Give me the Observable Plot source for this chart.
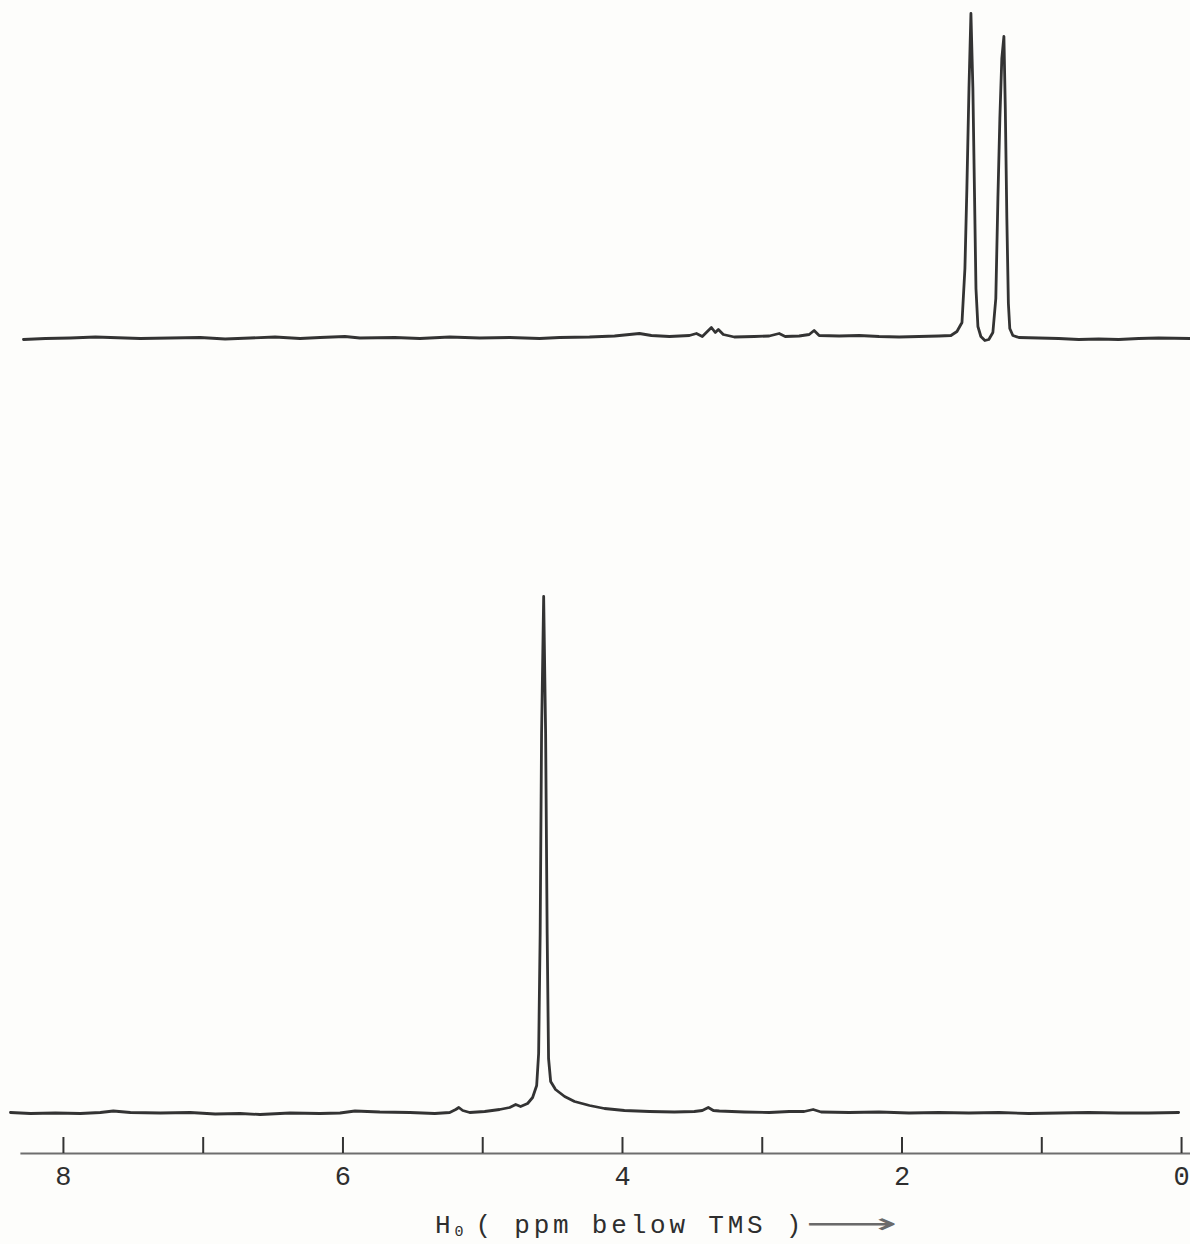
<!DOCTYPE html>
<html>
<head>
<meta charset="utf-8">
<script src="https://cdn.jsdelivr.net/npm/d3@7"></script>
<script src="https://cdn.jsdelivr.net/npm/@observablehq/plot@0.6"></script>
<style>
  html, body { margin: 0; padding: 0; background: #fdfdfb; }
  #wrap { position: relative; width: 1190px; height: 1244px; background: #fdfdfb; overflow: hidden; }
  #top, #bottom { display: block; line-height: 0; }
  #caption {
    position: absolute; left: 435px; top: 1209px;
    font-family: "Liberation Mono", "DejaVu Sans Mono", monospace;
    font-size: 26px; letter-spacing: 3.8px; color: #2e2e2e; white-space: nowrap; line-height: 30px;
  }
  #caption sub { font-size: 15px; vertical-align: -3px; letter-spacing: 12px; }
  #caption .arrow {
    display: inline-block; font-family: "DejaVu Sans", sans-serif; letter-spacing: 0;
    color: #6a6a6a; font-size: 28px; transform: scaleX(2.3); transform-origin: left center;
  }
</style>
</head>
<body>
<div id="wrap">
  <div id="top"></div>
  <div id="bottom"></div>
  <div id="caption">H<sub>0</sub>( ppm below TMS )<span class="arrow">⟶</span></div>
</div>
<script>
// Chemical shift axis (ppm below TMS), reversed as on the chart
const ppmDomain = [8.3, -0.064];
const tickValues = [8, 7, 6, 5, 4, 3, 2, 1, 0];
const tickLabels = ["8", "", "6", "", "4", "", "2", "", "0"];

// Upper spectrum: chemical shift (ppm) and relative intensity
const topPpm = [8.286, 8.129, 7.950, 7.771, 7.664, 7.450, 7.236, 7.021, 6.843, 6.664,
  6.486, 6.307, 6.164, 5.986, 5.879, 5.629, 5.450, 5.236, 5.021, 4.807,
  4.593, 4.450, 4.236, 4.057, 3.950, 3.879, 3.793, 3.664, 3.521, 3.471,
  3.429, 3.393, 3.364, 3.336, 3.314, 3.279, 3.200, 3.057, 2.950, 2.879,
  2.836, 2.736, 2.664, 2.629, 2.593, 2.450, 2.307, 2.164, 2.021, 1.879,
  1.736, 1.650, 1.607, 1.571, 1.550, 1.536, 1.521, 1.507, 1.493, 1.482,
  1.471, 1.457, 1.436, 1.407, 1.379, 1.350, 1.329, 1.314, 1.300, 1.286,
  1.271, 1.261, 1.250, 1.239, 1.229, 1.207, 1.164, 1.021, 0.879, 0.736,
  0.593, 0.450, 0.307, 0.164, -0.064];
const topIntensity = [-1, 0, 0.5, 1.5, 1, 0, 0.5, 1, -0.5, 0.5,
  1.5, 0, 1, 2, 0.5, 1, 0, 1.5, 0.5, 1,
  0, 1, 1.5, 2.5, 4, 5, 3, 2, 3, 5,
  2, 7, 11, 6, 9, 4, 1.5, 2, 2.5, 5,
  2, 2.5, 4, 8, 3, 2.5, 3, 2, 1.5, 2,
  2.5, 3, 7, 16, 70, 150, 250, 325, 250, 150,
  50, 12, 2, -2, -1, 6, 40, 140, 220, 280,
  302, 230, 120, 35, 10, 3, 1, 0.5, 0, -1,
  -0.5, -1, 0, 0.5, 0];

// Lower spectrum: chemical shift (ppm) and relative intensity
const bottomPpm = [8.379, 8.236, 8.057, 7.879, 7.736, 7.643, 7.521, 7.307, 7.093, 6.914,
  6.736, 6.593, 6.379, 6.164, 6.021, 5.914, 5.736, 5.521, 5.343, 5.236,
  5.193, 5.171, 5.143, 5.093, 4.986, 4.879, 4.807, 4.764, 4.729, 4.679,
  4.643, 4.614, 4.600, 4.589, 4.579, 4.564, 4.550, 4.539, 4.529, 4.514,
  4.479, 4.414, 4.343, 4.236, 4.129, 3.986, 3.807, 3.629, 3.486, 3.429,
  3.386, 3.350, 3.307, 3.129, 2.950, 2.807, 2.700, 2.636, 2.579, 2.379,
  2.164, 1.950, 1.736, 1.521, 1.307, 1.093, 0.879, 0.664, 0.450, 0.236,
  0.021];
const bottomIntensity = [1, 0, 0.5, 0, 1, 2.5, 1, 0.5, 1, -0.5,
  0, -1, 0.5, 0, 0.5, 2.5, 1.5, 1, 0, 1,
  4, 6, 3, 1, 2, 4, 6, 9, 7, 10,
  16, 28, 60, 180, 380, 517, 380, 180, 55, 32,
  24, 17, 12, 8, 5, 3, 2, 1.5, 2, 3,
  6, 3, 2.5, 1.5, 1, 2, 2, 4, 1.5, 1,
  1.5, 0.5, 1, 0.5, 1, 0, 0.5, 1, 0.5, 0.5,
  1];

const topData = topPpm.map((p, i) => ({ppm: p, intensity: topIntensity[i]}));
const bottomData = bottomPpm.map((p, i) => ({ppm: p, intensity: bottomIntensity[i]}));
const tickData = tickValues.map((v, i) => ({ppm: v, label: tickLabels[i]}));

const ink = "#333333";

const topPlot = Plot.plot({
  width: 1190, height: 400,
  marginLeft: 21, marginRight: 0, marginTop: 0, marginBottom: 0,
  style: {background: "transparent"},
  x: {domain: ppmDomain, axis: null},
  y: {domain: [-62, 338], axis: null},
  marks: [
    Plot.line(topData, {x: "ppm", y: "intensity", stroke: ink, strokeWidth: 2.8, strokeLinejoin: "round"})
  ]
});
document.getElementById("top").appendChild(topPlot);

const bottomPlot = Plot.plot({
  width: 1190, height: 795,
  marginLeft: 21, marginRight: 0, marginTop: 0, marginBottom: 42,
  style: {background: "transparent", fontFamily: "Liberation Mono, DejaVu Sans Mono, monospace", color: "#2e2e2e", overflow: "visible"},
  x: {domain: ppmDomain, label: null},
  y: {domain: [-40, 713], axis: null},
  marks: [
    Plot.line(bottomData, {x: "ppm", y: "intensity", stroke: ink, strokeWidth: 2.8, strokeLinejoin: "round"}),
    Plot.frame({anchor: "bottom", stroke: "#6e6e6e", strokeWidth: 2.2}),
    Plot.tickX(tickData, {x: "ppm", stroke: "#333", strokeWidth: 2, insetTop: 737}),
    Plot.axisX(tickValues, {tickSize: 0, tickPadding: 12, fontSize: 27, label: null, tickFormat: (d, i) => tickLabels[i]})
  ]
});
document.getElementById("bottom").appendChild(bottomPlot);
</script>
</body>
</html>
